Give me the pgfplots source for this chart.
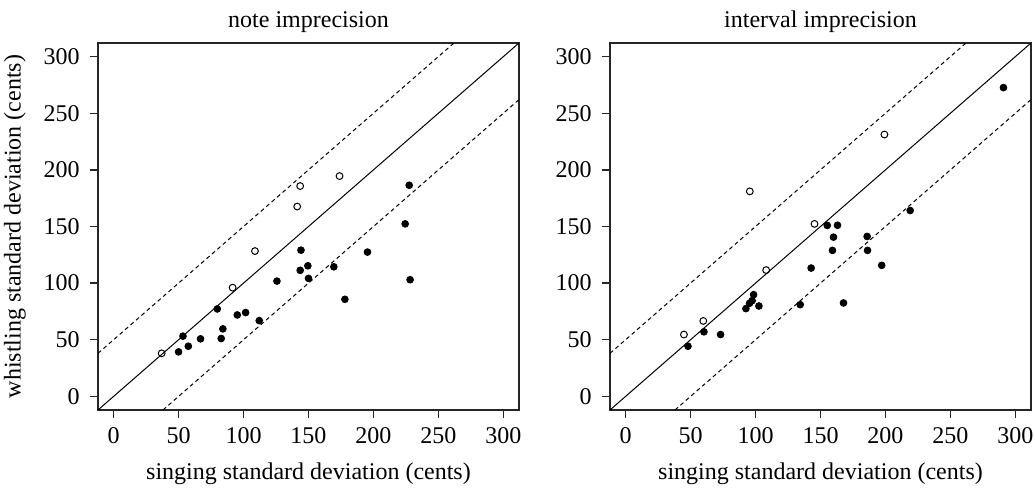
\documentclass[border=0pt]{standalone}
\usepackage{fontspec}
\setmainfont{Liberation Serif}
\usepackage{pgfplots}
\pgfplotsset{compat=1.18}

\pgfplotsset{
  rplot/.style={
    scale only axis, width=210.5pt, height=183.5pt,
    xmin=-12, xmax=312, ymin=-12, ymax=312,
    xtick={0,50,...,300}, ytick={0,50,...,300},
    xtick pos=left, ytick pos=left,
    tick align=outside, major tick length=4pt,
    axis line style={line width=0.7pt, black!85},
    every tick/.style={line width=0.7pt, black!85},
    /pgf/number format/assume math mode=true,
    font=\fontsize{12}{14}\selectfont,
    ticklabel style={font=\fontsize{12}{14}\selectfont},
    xticklabel style={anchor=base, inner sep=0pt, yshift=-12.7pt},
    yticklabel style={anchor=east, inner sep=0pt, xshift=-5pt},
    title style={at={(axis description cs:0.5,1)}, anchor=base, yshift=1.5pt, inner sep=0pt},
    xlabel={singing standard deviation (cents)},
    xlabel style={at={(axis description cs:0.5,0)}, anchor=base, yshift=-35pt, inner sep=0pt},
    ylabel style={at={(axis description cs:0,0.5)}, anchor=center, yshift=41.5pt, inner sep=0pt},
  },
  diag/.style={black, line width=0.5pt, forget plot},
  band/.style={black, line width=0.5pt, dash pattern=on 2pt off 1.6pt, forget plot},
  dot/.style={only marks, mark=*, mark size=1.7pt, black},
  ring/.style={only marks, mark=o, mark size=1.7pt, black, mark options={line width=0.5pt}},
}

\begin{document}
\begin{tikzpicture}
\path[use as bounding box] (-49pt,-40pt) rectangle (468.5pt,205pt);

% note imprecision
\begin{axis}[rplot, at={(0pt,0pt)}, anchor=south west,
    title={note imprecision},
    ylabel={whistling standard deviation (cents)}]
  \addplot[diag] coordinates {(-12,-12) (312,312)};
  \addplot[band] coordinates {(-12,38) (262,312)};
  \addplot[band] coordinates {(38,-12) (312,262)};
  \addplot[ring] coordinates {
    (37,38) (91.6,96) (108.8,128.3) (141.3,167.6) (143.6,185.7) (173.9,194.5)
  };
  \addplot[dot] coordinates {
    (50,39.3) (53.4,53.2) (57.5,44.3) (66.9,50.8) (79.8,77.2) (82.8,51.1)
    (84.1,59.6) (95.2,71.9) (101.6,74) (112.1,66.9) (125.7,101.8) (143.6,111.3)
    (144.2,129.1) (149.5,115.3) (150,104.2) (169.5,114.4) (178,85.7) (195.4,127.4)
    (224.4,152.3) (227.5,186.4) (228.2,103)
  };
\end{axis}

% interval imprecision
\begin{axis}[rplot, at={(256pt,0pt)}, anchor=south west,
    title={interval imprecision}]
  \addplot[diag] coordinates {(-12,-12) (312,312)};
  \addplot[band] coordinates {(-12,38) (262,312)};
  \addplot[band] coordinates {(38,-12) (312,262)};
  \addplot[ring] coordinates {
    (44.9,54.6) (59.8,66.6) (95.6,181) (108.2,111.5) (145.4,152.3) (199.2,231.2)
  };
  \addplot[dot] coordinates {
    (48,44.3) (60.3,57) (73.1,54.6) (92.6,77.5) (95.4,82.2) (97.4,84.5)
    (98.5,89.8) (102.6,79.8) (134.4,81) (142.8,113.3) (155.2,150.9) (159.2,128.9)
    (160,140.6) (163.1,151.1) (167.7,82.5) (185.9,141.2) (186.2,128.9) (197.1,115.7)
    (219,164.1) (290.8,272.6)
  };
\end{axis}
\end{tikzpicture}
\end{document}
